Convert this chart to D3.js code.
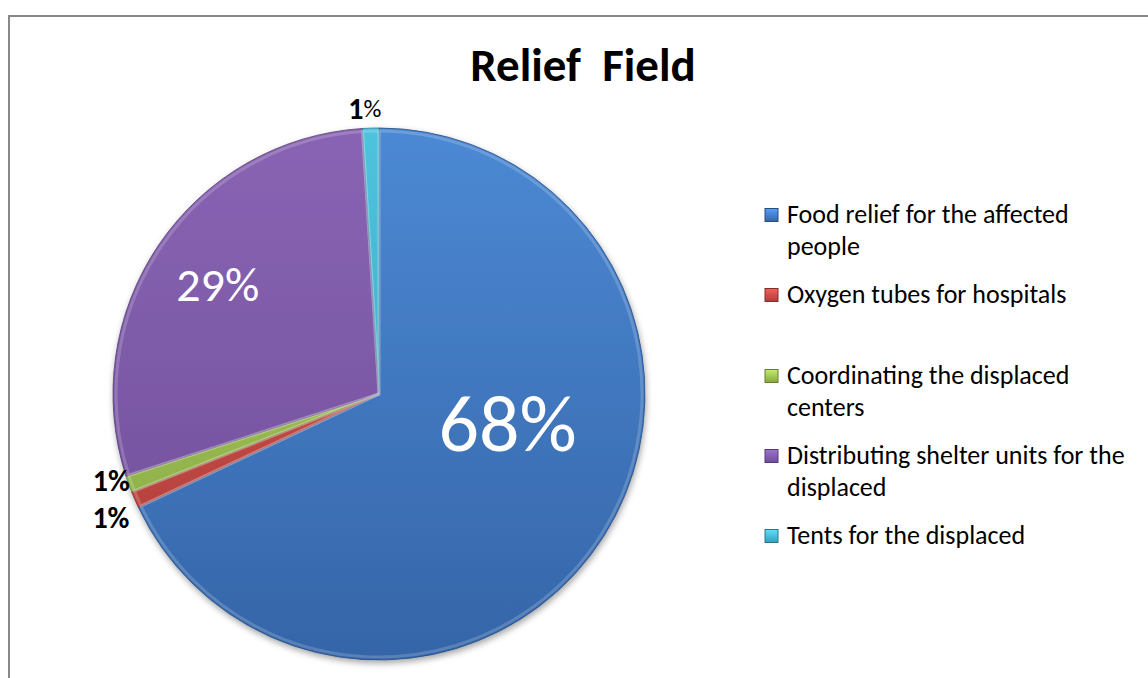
<!DOCTYPE html>
<html>
<head>
<meta charset="utf-8">
<script src="https://cdn.jsdelivr.net/npm/d3@7"></script>
<style>
  body { margin: 0; background: #fff; }
  svg { display: block; font-family: Carlito, Lato, "Open Sans", sans-serif; }
</style>
</head>
<body>
<div id="chart"></div>
<script>
const categories = [
    "Food relief for the affected people",
    "Oxygen tubes for hospitals",
    "Coordinating the displaced centers",
    "Distributing shelter units for the displaced",
    "Tents for the displaced"
];
const values = [68, 1, 1, 29, 1];
const legendLines = [
    ["Food relief for the affected", "people"],
    ["Oxygen tubes for hospitals"],
    ["Coordinating the displaced", "centers"],
    ["Distributing shelter units for the", "displaced"],
    ["Tents for the displaced"]
];
const topColors = ["#4C89D4", "#D4524E", "#AACD5C", "#8A64B4", "#4FC3DE"];
const bottomColors = ["#3565A8", "#AE3D3A", "#86A744", "#6D4E98", "#389EB8"];

class PieChart {
    constructor(selector) {
        this.selector = selector;
        this.width = 1148;
        this.height = 678;
        this.cx = 379;
        this.cy = 394;
        this.radius = 266;
    }

    createCanvas() {
        const svg = d3.select(this.selector)
            .append("svg")
            .attr("width", this.width)
            .attr("height", this.height);

        // chart frame, cut off on right and bottom
        svg.append("path")
            .attr("d", "M9," + this.height + " V16 H" + this.width)
            .attr("fill", "none")
            .attr("stroke", "#888")
            .attr("stroke-width", 2);
        return svg;
    }

    addDefs(svg) {
        const defs = svg.append("defs");
        topColors.forEach((c, i) => {
            const g = defs.append("linearGradient")
                .attr("id", "grad" + i)
                .attr("gradientUnits", "userSpaceOnUse")
                .attr("x1", 0).attr("y1", -this.radius)
                .attr("x2", 0).attr("y2", this.radius);
            g.append("stop").attr("offset", "0%").attr("stop-color", c);
            g.append("stop").attr("offset", "100%").attr("stop-color", bottomColors[i]);

            const lg = defs.append("linearGradient")
                .attr("id", "lg" + i)
                .attr("x1", 0).attr("y1", 0).attr("x2", 0).attr("y2", 1);
            lg.append("stop").attr("offset", "0%").attr("stop-color", d3.color(c).brighter(0.4));
            lg.append("stop").attr("offset", "100%").attr("stop-color", bottomColors[i]);
        });
        const f = defs.append("filter").attr("id", "shadow")
            .attr("x", "-10%").attr("y", "-10%").attr("width", "120%").attr("height", "125%");
        f.append("feDropShadow").attr("dx", 1).attr("dy", 3).attr("stdDeviation", 3)
            .attr("flood-color", "#000").attr("flood-opacity", 0.35);
    }

    renderPie(svg) {
        const pie = d3.pie().sort(null).value(d => d)(values);
        const arc = d3.arc().innerRadius(0).outerRadius(this.radius);
        const g = svg.append("g")
            .attr("transform", "translate(" + this.cx + "," + this.cy + ")");

        g.append("g").attr("filter", "url(#shadow)")
            .selectAll("path")
            .data(pie)
            .enter()
            .append("path")
            .attr("d", arc)
            .attr("fill", (d, i) => "url(#grad" + i + ")")
            .attr("stroke", (d, i) => d3.color(bottomColors[i]).darker(0.7))
            .attr("stroke-width", 0.8);

        // bevel highlight along slice edges
        g.selectAll(".bevel")
            .data(pie)
            .enter()
            .append("path")
            .attr("d", d3.arc().innerRadius(0).outerRadius(this.radius - 3))
            .attr("fill", "none")
            .attr("stroke", "#fff")
            .attr("stroke-opacity", 0.18)
            .attr("stroke-width", 3);

        const outer = d3.arc().innerRadius(this.radius + 25).outerRadius(this.radius + 25);

        // big labels inside
        const big = pie[0];
        const bigRad = (big.startAngle + big.endAngle) / 2 - 0.34;
        g.append("text")
            .attr("x", Math.sin(bigRad) * 132)
            .attr("y", -Math.cos(bigRad) * 132)
            .attr("text-anchor", "middle")
            .attr("dominant-baseline", "central")
            .attr("fill", "#fff")
            .attr("font-size", 80)
            .text(values[0] + "%");

        const mid = pie[3];
        const midRad = (mid.startAngle + mid.endAngle) / 2;
        g.append("text")
            .attr("x", Math.sin(midRad) * 195)
            .attr("y", -Math.cos(midRad) * 195)
            .attr("text-anchor", "middle")
            .attr("dominant-baseline", "central")
            .attr("fill", "#fff")
            .attr("font-size", 48)
            .text(values[3] + "%");

        // small outside labels
        const nudge = { 1: [-1, 7], 2: [6, -13], 4: [-5, 5] };
        [1, 2, 4].forEach(i => {
            const c = outer.centroid(pie[i]);
            const t = g.append("text")
                .attr("x", c[0] + nudge[i][0])
                .attr("y", c[1] + nudge[i][1])
                .attr("text-anchor", "middle")
                .attr("dominant-baseline", "central")
                .attr("font-size", 30)
                .attr("fill", "#000");
            t.append("tspan").attr("font-weight", "bold").text(values[i]);
            t.append("tspan")
                .attr("font-weight", i === 4 ? "normal" : "bold")
                .attr("font-size", i === 4 ? 25 : 30)
                .text("%");
        });
    }

    renderTitle(svg) {
        svg.append("text")
            .attr("x", 583)
            .attr("y", 81)
            .attr("text-anchor", "middle")
            .attr("font-size", 47)
            .attr("font-weight", "bold")
            .attr("xml:space", "preserve")
            .text("Relief  Field");
    }

    renderLegend(svg) {
        const x0 = 765, size = 13, lineH = 32;
        const tops = [215, 295, 376, 456, 536];
        const g = svg.append("g");
        const items = g.selectAll("g")
            .data(legendLines)
            .enter()
            .append("g")
            .attr("transform", (d, i) => "translate(" + x0 + "," + tops[i] + ")");

        items.append("rect")
            .attr("x", 0).attr("y", -size / 2)
            .attr("width", size).attr("height", size)
            .attr("fill", (d, i) => "url(#lg" + i + ")")
            .attr("stroke", (d, i) => d3.color(bottomColors[i]).darker(0.8))
            .attr("stroke-width", 1);

        items.append("text")
            .attr("x", 22)
            .attr("y", 0)
            .attr("font-size", 26)
            .attr("fill", "#000")
            .selectAll("tspan")
            .data(d => d)
            .enter()
            .append("tspan")
            .attr("x", 22)
            .attr("dy", (d, j) => j === 0 ? 8 : lineH)
            .text(d => d);
    }

    build() {
        const svg = this.createCanvas();
        this.addDefs(svg);
        this.renderTitle(svg);
        this.renderPie(svg);
        this.renderLegend(svg);
    }
}

new PieChart("#chart").build();
</script>
</body>
</html>
